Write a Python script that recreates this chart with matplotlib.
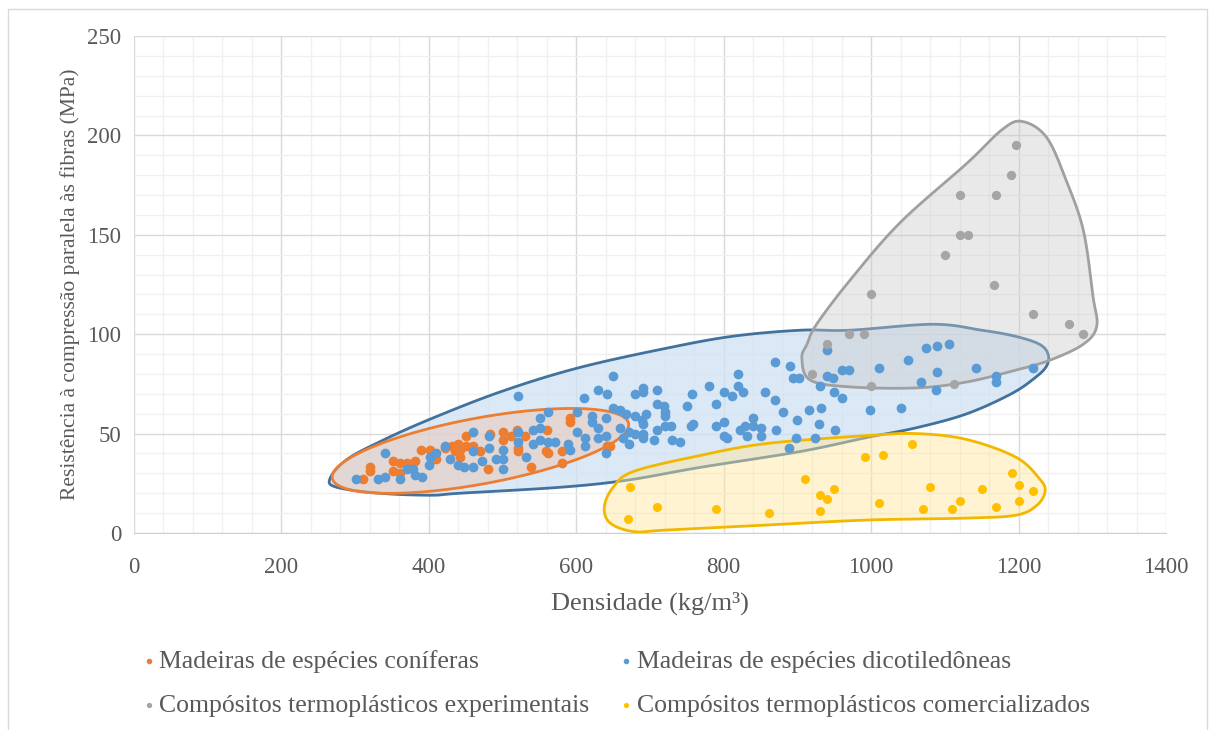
import numpy as np
import matplotlib.pyplot as plt
from matplotlib.patches import Polygon, Rectangle
from matplotlib.ticker import MultipleLocator

plt.rcParams['font.family'] = ['Liberation Serif', 'DejaVu Serif']

# Madeiras de espécies coníferas
con_x = [310, 320, 320, 351, 361, 371, 351, 361, 381, 390, 401, 406, 410, 422, 431, 436, 442,
         438, 451, 451, 439, 460, 469, 442, 480, 483, 500, 500, 511, 519, 521, 521, 531, 538,
         560, 559, 561, 580, 580, 592, 592, 641, 646]
con_y = [27, 33, 31, 36, 35, 35, 31, 30, 36, 42, 42, 37, 37, 43, 44, 41, 42,
         44, 44, 49, 45, 44, 41, 38, 32, 50, 51, 47, 49, 52, 41, 43, 49, 33,
         52, 41, 40, 41, 35, 58, 56, 44, 44]

# Madeiras de espécies dicotiledôneas
dic_x = [301, 331, 341, 341, 361, 370, 379, 381, 391, 400, 401, 410, 422, 429, 439, 447, 460, 460,
         460, 472, 481, 481, 491, 501, 501, 501, 521, 521, 532, 541, 551, 551, 561, 541, 551, 561,
         571, 589, 592, 601, 601, 612, 612, 621, 621, 630, 630, 640, 640, 640, 650, 659, 659, 664,
         521, 610, 630, 641, 650,
         668, 680, 689, 694, 691, 671, 680, 690, 690, 671, 680, 690, 690, 710, 710, 719, 720, 720,
         750, 757, 780, 790, 800, 811, 820, 820, 826, 856, 870, 870, 880, 890, 894, 902, 899, 916,
         710, 720, 729, 705, 730, 741, 756, 759, 790, 801, 801, 804, 822, 829, 831, 840, 840, 850,
         850, 871, 898, 889, 924, 929, 951, 930, 932, 940, 940, 948, 950, 960, 960, 970, 998, 1010,
         1050, 1074, 1090, 1106, 1090, 1067, 1088, 1142, 1170, 1170, 1220, 1040]
dic_y = [27, 27, 28, 40, 27, 32, 32, 29, 28, 34, 38, 40, 44, 37, 34, 33, 51, 41,
         33, 36, 49, 43, 37, 42, 37, 32, 51, 46, 38, 52, 53, 58, 61, 45, 47, 46,
         46, 45, 42, 61, 51, 48, 44, 59, 56, 53, 48, 58, 49, 40, 63, 62, 53, 48,
         69, 68, 72, 70, 79,
         60, 59, 57, 60, 55, 51, 50, 50, 48, 45, 70, 71, 73, 72, 65, 64, 61, 59,
         64, 70, 74, 65, 71, 69, 80, 74, 71, 71, 86, 67, 61, 84, 78, 78, 57, 62,
         52, 54, 54, 47, 47, 46, 54, 55, 54, 56, 49, 48, 52, 54, 49, 58, 54, 53,
         49, 52, 48, 43, 48, 55, 52, 74, 63, 92, 79, 78, 71, 68, 82, 82, 62, 83,
         87, 93, 94, 95, 81, 76, 72, 83, 79, 76, 83, 63]

# Compósitos termoplásticos experimentais
exp_x = [920, 940, 970, 990, 1000, 1000, 1100, 1112, 1121, 1121, 1131, 1167, 1170, 1190, 1196,
         1219, 1268, 1288]
exp_y = [80, 95, 100, 100, 120, 74, 140, 75, 170, 150, 150, 125, 170, 180, 195,
         110, 105, 100]

# Compósitos termoplásticos comercializados
com_x = [673, 670, 710, 790, 862, 910, 930, 940, 949, 930, 992, 1016, 1056, 1010, 1080, 1070,
         1110, 1120, 1150, 1170, 1191, 1201, 1201, 1220]
com_y = [23, 7, 13, 12, 10, 27, 19, 17, 22, 11, 38, 39, 45, 15, 23, 12,
         12, 16, 22, 13, 30, 24, 16, 21]

# contornos dos grupos
dic_cx = [266, 275, 334, 402, 442, 578, 668, 768, 904, 994, 1062, 1130, 1190, 1222, 1238, 1240,
          1228, 1195, 1150, 1084, 971, 904, 813, 723, 602, 497, 400, 334, 289]
dic_cy = [27.5, 23, 20, 19, 20, 23, 26.5, 33, 41, 48, 53, 60, 70, 78, 84, 90,
          95, 99, 102, 105, 102, 102, 99, 93, 83, 71, 57, 46, 37]
exp_cx = [1205, 1238, 1265, 1288, 1301, 1306, 1288, 1243, 1197, 1130, 1062, 971, 917, 906, 913,
          926, 971, 1039, 1130, 1178]
exp_cy = [207, 199, 177, 152, 119, 104, 95, 87, 82, 76, 73, 73.5, 77, 88, 95,
          105, 127, 156, 186, 203]
com_cx = [638, 650, 678, 768, 858, 994, 1062, 1130, 1197, 1229, 1236, 1225, 1197, 1130, 994, 858,
          723, 678, 646]
com_cy = [13, 23, 31, 39, 45, 49, 50, 47, 38, 27, 21, 14, 9, 7.5, 6.5, 4,
          1.5, 0.7, 5]
# elipse das coníferas: centro e semi-eixos
con_c = (470, 41.3)
con_a = (201, 13.8)
con_b = (8.2, -16.3)


def closed_spline(xs, ys, n=20):
    p = np.column_stack([xs, ys]).astype(float)
    m = len(p)
    out = []
    t = np.linspace(0, 1, n, endpoint=False)[:, None]
    for i in range(m):
        p0, p1, p2, p3 = p[i - 1], p[i], p[(i + 1) % m], p[(i + 2) % m]
        out.append(0.5 * ((2 * p1) + (-p0 + p2) * t + (2 * p0 - 5 * p1 + 4 * p2 - p3) * t ** 2
                          + (-p0 + 3 * p1 - 3 * p2 + p3) * t ** 3))
    return np.vstack(out)


fig = plt.figure(figsize=(12.15, 7.3), dpi=100)
ax = fig.add_axes([134 / 1215, 1 - 533 / 730, (1166 - 134) / 1215, (533 - 36) / 730])

ax.set_xlim(0, 1400)
ax.set_ylim(0, 250)
ax.xaxis.set_major_locator(MultipleLocator(200))
ax.xaxis.set_minor_locator(MultipleLocator(40))
ax.yaxis.set_major_locator(MultipleLocator(50))
ax.yaxis.set_minor_locator(MultipleLocator(10))
ax.grid(which='major', color='#d9d9d9', lw=1.0)
ax.grid(which='minor', color='#f0f0f0', lw=1.0)
ax.set_axisbelow(True)
for s in ['top', 'right', 'left']:
    ax.spines[s].set_visible(False)
ax.spines['bottom'].set_color('#d0d0d0')
ax.tick_params(which='both', length=0, labelsize=16.5, colors='#595959')
ax.tick_params(axis='x', pad=17)
ax.tick_params(axis='y', pad=9)

# áreas
t = np.linspace(0, 2 * np.pi, 200)
ell = np.column_stack([con_c[0] + con_a[0] * np.cos(t) + con_b[0] * np.sin(t),
                       con_c[1] + con_a[1] * np.cos(t) + con_b[1] * np.sin(t)])
shapes = [
    (closed_spline(dic_cx, dic_cy), '#cfe2f5', 0.75, '#41719c'),
    (ell, '#e8c9b8', 0.55, '#ed7d31'),
    (closed_spline(exp_cx, exp_cy), '#c8c8c8', 0.4, '#a0a0a0'),
    (closed_spline(com_cx, com_cy), '#ffe699', 0.45, '#f2b800'),
]
for i, (pts, fc, al, ec) in enumerate(shapes):
    ax.add_patch(Polygon(pts, closed=True, facecolor=fc, alpha=al, edgecolor='none', zorder=1 + i * 0.1))
    ax.add_patch(Polygon(pts, closed=True, facecolor='none', edgecolor=ec, lw=2, zorder=1.05 + i * 0.1))

h1 = ax.scatter(con_x, con_y, s=36, color='#ed7d31', zorder=3, label='Madeiras de espécies coníferas')
h2 = ax.scatter(dic_x, dic_y, s=36, color='#5b9bd5', zorder=3, label='Madeiras de espécies dicotiledôneas')
h3 = ax.scatter(exp_x, exp_y, s=32, color='#a5a5a5', zorder=3, label='Compósitos termoplásticos experimentais')
h4 = ax.scatter(com_x, com_y, s=30, color='#ffc000', zorder=3, label='Compósitos termoplásticos comercializados')

ax.set_xlabel('Densidade (kg/m³)', fontsize=19, color='#595959', labelpad=10)
ax.set_ylabel('Resistência à compressão paralela às fibras (MPa)', fontsize=15.5, color='#595959', labelpad=5.5)

leg = fig.legend([h1, h3, h2, h4],
                 [h1.get_label(), h3.get_label(), h2.get_label(), h4.get_label()],
                 ncol=2, loc='center', bbox_to_anchor=(0.506, 0.064), frameon=False,
                 fontsize=18.5, markerscale=0.5, handletextpad=0.05, handlelength=0.7,
                 columnspacing=1.1, labelspacing=0.8)
for txt in leg.get_texts():
    txt.set_color('#595959')

fig.patches.append(Rectangle((8 / 1215, -0.1), (1207 - 8) / 1215, 1.1 - 9 / 730,
                             transform=fig.transFigure, fill=False, edgecolor='#d9d9d9', lw=1))

fig.savefig('out.png', dpi=100)
